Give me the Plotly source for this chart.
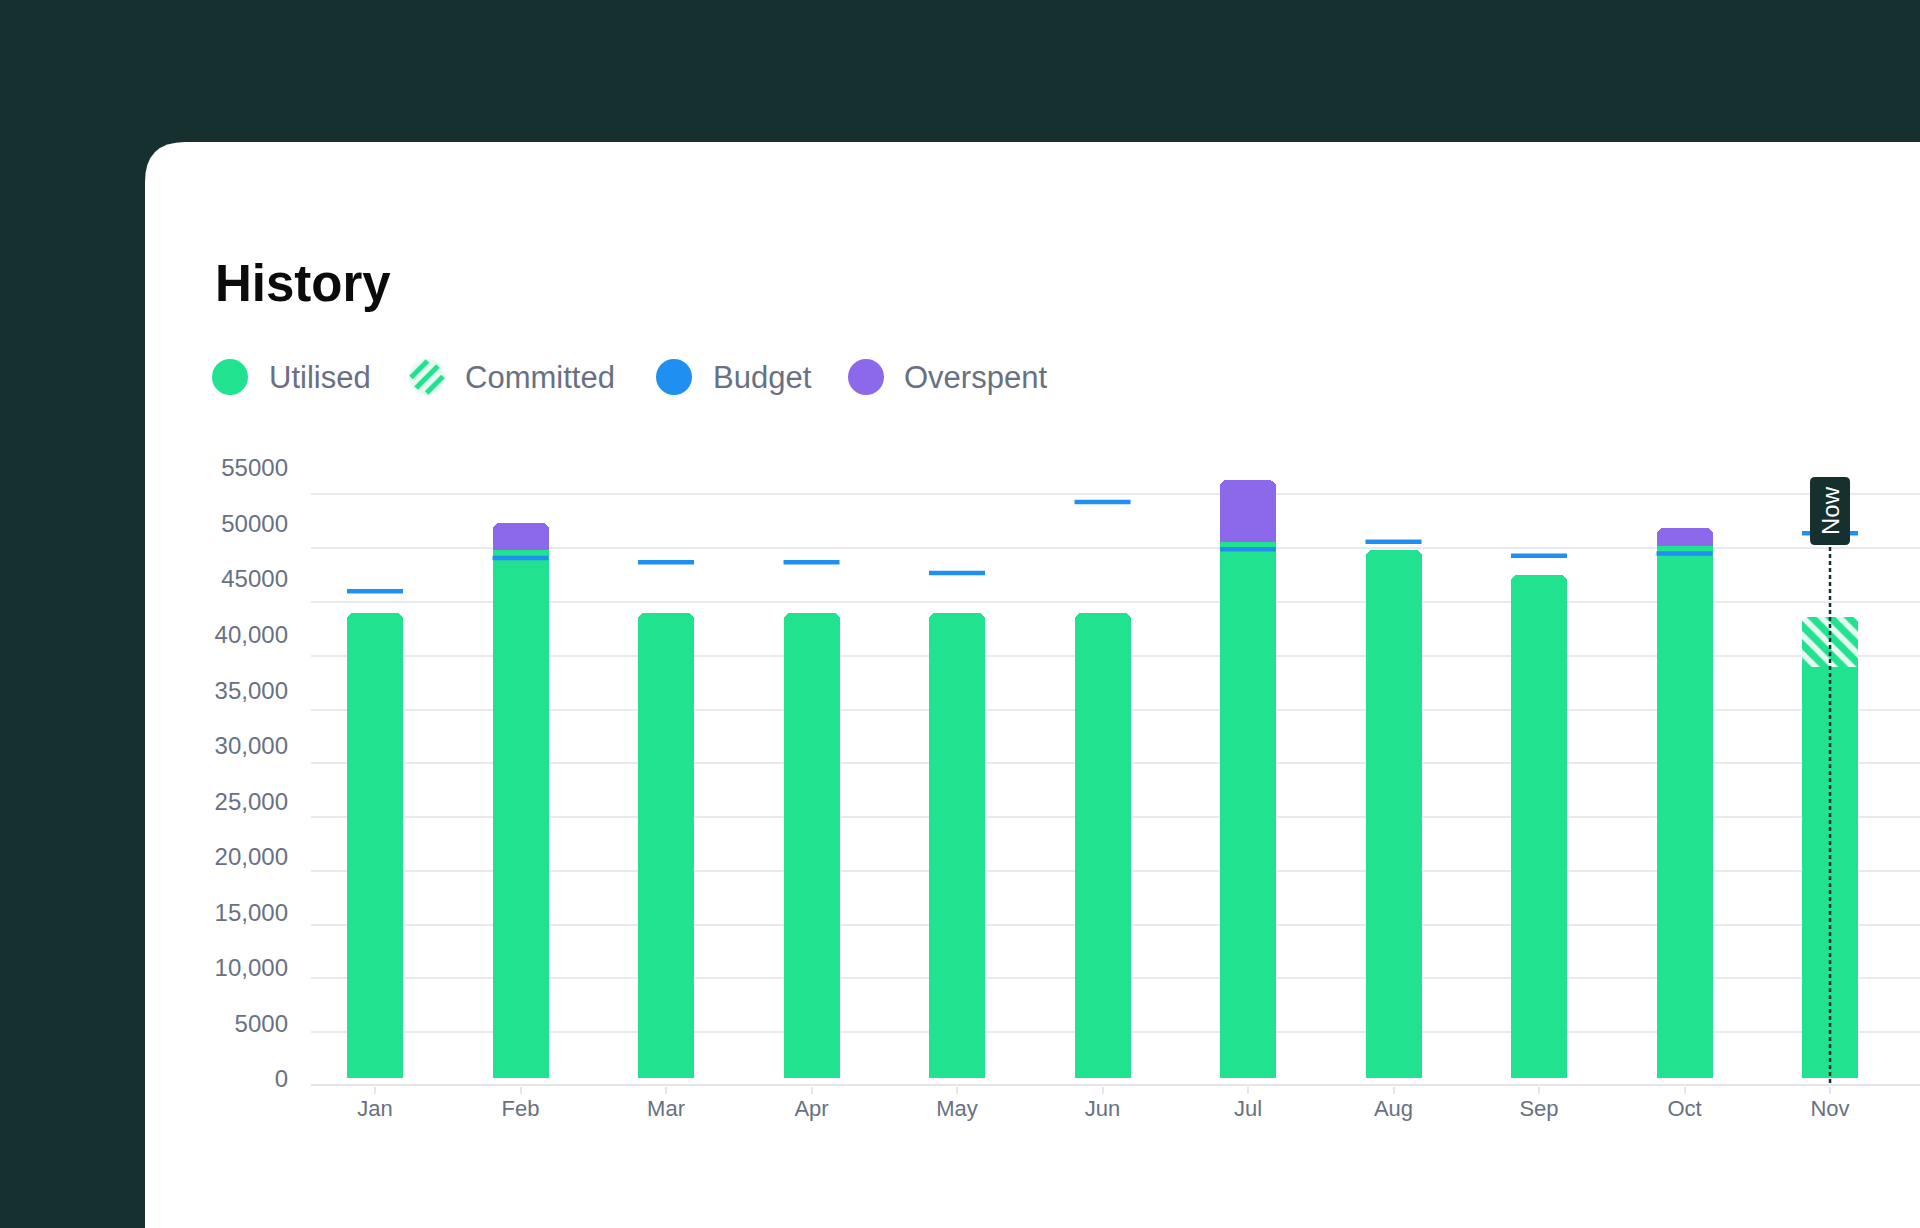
import plotly.graph_objects as go

# ---------------- data ----------------
months = ["Jan", "Feb", "Mar", "Apr", "May", "Jun", "Jul", "Aug", "Sep", "Oct", "Nov"]
utilised = [44000, 49800, 44000, 44000, 44000, 44000, 50600, 49800, 47500, 50200, 39000]
committed = [None, None, None, None, None, None, None, None, None, None, 4600]
overspent = [None, 2500, None, None, None, None, 5700, None, None, 1700, None]
budget = [46000, 49100, 48700, 48700, 47700, 54300, 49900, 50600, 49300, 49500, 51400]
now_month = "Nov"

y_tick_values = [0, 5000, 10000, 15000, 20000, 25000, 30000, 35000, 40000, 45000, 50000, 55000]
y_tick_text = ["0", "5000", "10,000", "15,000", "20,000", "25,000", "30,000",
               "35,000", "40,000", "45000", "50000", "55000"]

legend_names = ["Utilised", "Committed", "Budget", "Overspent"]

# ---------------- style ----------------
DARK = "#16302F"
GREEN = "#20E28F"
GREEN_LIGHT = "#E6FAF0"
PURPLE = "#8C69EB"
BLUE = "#1F8FF2"
GRID = "#E9EAED"
AXIS = "#E4E6E9"
GRAY = "#687183"
FONT = "Liberation Sans, Arial, sans-serif"

W, H = 1920, 1228
PL, PR, PT, PB = 311, 1920, 440, 1086          # plot area in pixels
PX_PER_STEP = 53.78                            # pixels per 5000
y_max = (PB - PT) / PX_PER_STEP * 5000
CAT_PX = 145.5
x_lo = -0.44
x_hi = x_lo + (PR - PL) / CAT_PX

# label axis (labels sit slightly off the gridlines in the reference)
LBL_ZERO_PX, LBL_TOP_PX = 1079, 468
lbl_slope = (LBL_ZERO_PX - LBL_TOP_PX) / y_tick_values[-1]
lbl_lo = -(PB - LBL_ZERO_PX) / lbl_slope
lbl_hi = lbl_lo + (PB - PT) / lbl_slope


def fx(px):
    return (px - PL) / (PR - PL)


def fy(py):
    return (PB - py) / (PB - PT)


fig = go.Figure()
BAR_W = 0.385
fig.add_trace(go.Bar(x=months, y=utilised, name="Utilised", width=BAR_W,
                     marker=dict(color=GREEN, line=dict(width=0))))
fig.add_trace(go.Bar(x=months, y=committed, name="Committed", width=BAR_W,
                     marker=dict(color=GREEN, line=dict(width=0),
                                 pattern=dict(shape="\\", fgcolor=GREEN, bgcolor=GREEN_LIGHT,
                                              size=13, solidity=0.55, fillmode="replace"))))
fig.add_trace(go.Bar(x=months, y=overspent, name="Overspent", width=BAR_W,
                     marker=dict(color=PURPLE, line=dict(width=0))))
fig.add_trace(go.Scatter(x=months, y=budget, name="Budget", mode="markers",
                         marker=dict(symbol="line-ew", size=40, color=BLUE,
                                     line=dict(width=4.5, color=BLUE))))
# empty trace that carries the label axis
fig.add_trace(go.Scatter(x=[], y=[], yaxis="y2", showlegend=False, hoverinfo="skip"))

shapes = []
# white card with rounded top-left corner
cx0, cy0 = fx(145), fy(142)
rx, ry = 40 / (PR - PL), 40 / (PB - PT)
xr, yb = 1.05, fy(1260)
shapes.append(dict(type="path", xref="paper", yref="paper", layer="below",
                   path=(f"M {cx0},{yb} L {cx0},{cy0 - ry} Q {cx0},{cy0} {cx0 + rx},{cy0} "
                         f"L {xr},{cy0} L {xr},{yb} Z"),
                   fillcolor="white", line=dict(width=0)))
# gap between bars and axis line
shapes.append(dict(type="rect", xref="paper", x0=0, x1=1, yref="y", ysizemode="pixel",
                   yanchor=0, y0=2, y1=8, fillcolor="white", line=dict(width=0), layer="above"))
# axis line
shapes.append(dict(type="rect", xref="paper", x0=0, x1=1, yref="y", ysizemode="pixel",
                   yanchor=0, y0=-2, y1=2, fillcolor=AXIS, line=dict(width=0), layer="above"))
# "Now" dashed line
shapes.append(dict(type="line", xref="x", x0=now_month, x1=now_month, yref="paper",
                   y0=fy(1083), y1=fy(545), line=dict(color=DARK, width=2.5, dash="4px,3px"),
                   layer="above"))
# "Now" tag
tag_path = ("M -15,-34 L 15,-34 Q 20,-34 20,-29 L 20,29 Q 20,34 15,34 L -15,34 "
            "Q -20,34 -20,29 L -20,-29 Q -20,-34 -15,-34 Z")
shapes.append(dict(type="path", xref="x", xsizemode="pixel", xanchor=months.index(now_month),
                   yref="paper", ysizemode="pixel", yanchor=fy(511), path=tag_path,
                   fillcolor=DARK, line=dict(width=0), layer="above"))

annotations = []
annotations.append(dict(text="<b>History</b>", x=fx(213), y=fy(283), xref="paper", yref="paper",
                        xanchor="left", yanchor="middle", showarrow=False,
                        font=dict(family=FONT, size=51, color="#0B0B0B")))
annotations.append(dict(text="Now", x=now_month, xref="x", y=fy(511), yref="paper",
                        xanchor="center", yanchor="middle",
                        textangle=-90, showarrow=False,
                        font=dict(family=FONT, size=24, color="white")))

# custom legend
leg_icon_x = [230, 427, 674, 866]
leg_text_x = [267, 463, 711, 902]
leg_colors = [GREEN, None, BLUE, PURPLE]
LEG_Y = 377
for name, ix, tx, col in zip(legend_names, leg_icon_x, leg_text_x, leg_colors):
    if col is not None:
        shapes.append(dict(type="circle", xref="paper", xsizemode="pixel", xanchor=fx(ix),
                           yref="paper", ysizemode="pixel", yanchor=fy(LEG_Y),
                           x0=-18, x1=18, y0=-18, y1=18, fillcolor=col, line=dict(width=0)))
    else:
        shapes.append(dict(type="circle", xref="paper", xsizemode="pixel", xanchor=fx(ix),
                           yref="paper", ysizemode="pixel", yanchor=fy(LEG_Y),
                           x0=-18, x1=18, y0=-18, y1=18, fillcolor=GREEN_LIGHT, line=dict(width=0)))
        for d in (-11, 0, 11):
            half = (17.5 ** 2 - d ** 2) ** 0.5 - 2
            ox, oy = d / 2 ** 0.5, -d / 2 ** 0.5
            ux = half / 2 ** 0.5
            shapes.append(dict(type="line", xref="paper", xsizemode="pixel", xanchor=fx(ix),
                               yref="paper", ysizemode="pixel", yanchor=fy(LEG_Y),
                               x0=ox - ux, y0=oy - ux, x1=ox + ux, y1=oy + ux,
                               line=dict(color=GREEN, width=5)))
    annotations.append(dict(text=name, x=fx(tx), y=fy(LEG_Y), xref="paper", yref="paper",
                            xanchor="left", yanchor="middle", showarrow=False,
                            font=dict(family=FONT, size=31, color=GRAY)))

fig.update_layout(
    width=W, height=H, autosize=False,
    margin=dict(l=PL, r=W - PR, t=PT, b=H - PB, pad=0),
    paper_bgcolor=DARK, plot_bgcolor="rgba(0,0,0,0)",
    barmode="stack", barcornerradius=7, bargap=0,
    showlegend=False,
    font=dict(family=FONT, color=GRAY),
    xaxis=dict(range=[x_lo, x_hi], showgrid=False, zeroline=False, showline=False,
               ticks="outside", ticklen=7, tickwidth=1.5, tickcolor=AXIS,
               tickfont=dict(family=FONT, size=22, color=GRAY), ticklabelstandoff=-4,
               fixedrange=True),
    yaxis=dict(range=[0, y_max], tickvals=y_tick_values, showticklabels=False,
               showgrid=True, gridcolor=GRID, gridwidth=1.5, zeroline=False,
               showline=False, ticks="", fixedrange=True),
    yaxis2=dict(overlaying="y", side="left", anchor="x", range=[lbl_lo, lbl_hi],
                tickvals=y_tick_values, ticktext=y_tick_text, showgrid=False,
                zeroline=False, showline=False, ticks="", ticklabelstandoff=22,
                tickfont=dict(family=FONT, size=24, color=GRAY), fixedrange=True),
    shapes=shapes, annotations=annotations,
)

fig.write_html("out.html")
